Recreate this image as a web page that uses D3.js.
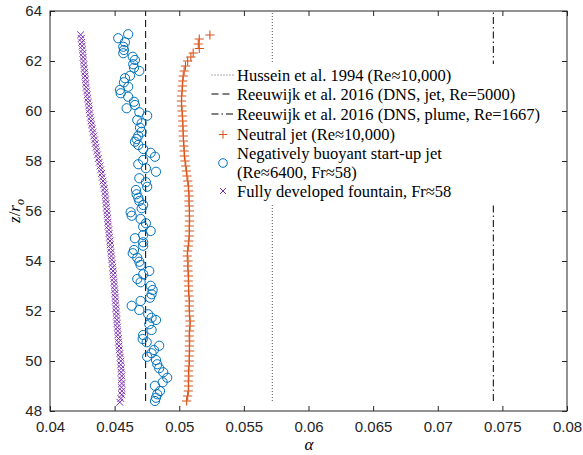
<!DOCTYPE html>
<html><head><meta charset="utf-8">
<script src="https://cdn.jsdelivr.net/npm/d3@7"></script>
<style>
html,body{margin:0;padding:0;background:#fff;}
svg{display:block;}
</style></head>
<body>
<svg id="chart" width="583" height="455"></svg>
<script>
// ---------- data ----------
const xTicks = [0.04,0.045,0.05,0.055,0.06,0.065,0.07,0.075,0.08];
const xTickLabels = ["0.04","0.045","0.05","0.055","0.06","0.065","0.07","0.075","0.08"];
const yTicks = [48,50,52,54,56,58,60,62,64];
const yTickLabels = ["48","50","52","54","56","58","60","62","64"];

// reference lines (alpha constant), drawn over z range
const refNames = ["Hussein et al. 1994 (Re≈10,000)","Reeuwijk et al. 2016 (DNS, jet, Re=5000)","Reeuwijk et al. 2016 (DNS, plume, Re=1667)"];
const refAlpha = [0.0572, 0.0474, 0.0743];
const refZ = [48.4, 64];

// Neutral jet (orange +)
const jetZ = [48.4,48.6,48.8,49.0,49.2,49.4,49.6,49.8,50.0,50.2,50.4,50.6,50.8,51.0,51.2,51.4,51.6,51.8,52.0,52.2,52.4,52.6,52.8,53.0,53.2,53.4,53.6,53.8,54.0,54.2,54.4,54.6,54.8,55.0,55.2,55.4,55.6,55.8,56.0,56.2,56.4,56.6,56.8,57.0,57.2,57.4,57.6,57.8,58.0,58.2,58.4,58.6,58.8,59.0,59.2,59.4,59.6,59.8,60.0,60.2,60.4,60.6,60.8,61.0,61.2,61.4,61.6,61.8,62.0,62.16,62.32,62.5,62.68,62.88,63.04];
const jetAlpha = [0.05057,0.05065,0.05070,0.05072,0.05070,0.05074,0.05071,0.05076,0.05078,0.05077,0.05080,0.05078,0.05081,0.05077,0.05080,0.05083,0.05084,0.05080,0.05078,0.05077,0.05079,0.05075,0.05072,0.05073,0.05070,0.05072,0.05068,0.05066,0.05068,0.05062,0.05065,0.05070,0.05074,0.05077,0.05079,0.05077,0.05080,0.05078,0.05079,0.05077,0.05075,0.05076,0.05073,0.05070,0.05066,0.05060,0.05055,0.05050,0.05045,0.05040,0.05038,0.05036,0.05033,0.05031,0.05030,0.05028,0.05027,0.05024,0.05022,0.05019,0.05017,0.05019,0.05022,0.05024,0.05027,0.05031,0.05038,0.05048,0.05065,0.05090,0.05108,0.05155,0.05147,0.05155,0.05237];

// Negatively buoyant start-up jet (blue o)
const nbjZ = [63.07,62.91,62.75,62.57,62.44,62.31,62.17,62.04,61.87,61.73,61.60,61.41,61.31,61.15,60.97,60.84,60.71,60.57,60.37,60.24,60.11,59.95,59.81,59.64,59.51,59.33,59.17,59.01,58.88,58.77,58.64,58.48,58.33,58.17,58.04,57.87,57.71,57.57,57.31,57.15,56.97,56.84,56.67,56.53,56.40,56.24,56.11,55.95,55.81,55.68,55.51,55.37,55.20,55.04,54.91,54.75,54.61,54.44,54.31,54.13,53.97,53.84,53.60,53.47,53.28,53.15,53.01,52.84,52.67,52.53,52.40,52.21,52.04,51.87,51.73,51.64,51.47,51.24,51.04,50.88,50.75,50.61,50.44,50.31,50.17,50.04,49.87,49.71,49.55,49.33,49.15,49.01,48.80,48.67,48.53,48.40];
const nbjAlpha = [0.04605,0.04528,0.04580,0.04567,0.04572,0.04567,0.04640,0.04657,0.04644,0.04650,0.04691,0.04619,0.04580,0.04572,0.04605,0.04541,0.04547,0.04605,0.04650,0.04657,0.04593,0.04691,0.04752,0.04675,0.04709,0.04696,0.04709,0.04683,0.04670,0.04657,0.04683,0.04721,0.04779,0.04812,0.04721,0.04683,0.04742,0.04820,0.04691,0.04742,0.04752,0.04665,0.04670,0.04683,0.04691,0.04721,0.04709,0.04624,0.04632,0.04701,0.04742,0.04721,0.04779,0.04721,0.04657,0.04721,0.04721,0.04650,0.04640,0.04675,0.04691,0.04701,0.04768,0.04721,0.04675,0.04701,0.04779,0.04794,0.04786,0.04773,0.04701,0.04632,0.04691,0.04760,0.04786,0.04820,0.04768,0.04786,0.04721,0.04717,0.04748,0.04845,0.04804,0.04786,0.04752,0.04820,0.04830,0.04845,0.04876,0.04907,0.04872,0.04812,0.04851,0.04830,0.04820,0.04812];

// Fully developed fountain (purple x)
const fntZ = [48.35,48.50,48.65,48.80,48.95,49.10,49.25,49.40,49.55,49.70,49.85,50.00,50.15,50.30,50.45,50.60,50.75,50.90,51.05,51.20,51.35,51.50,51.65,51.80,51.95,52.10,52.25,52.40,52.55,52.70,52.85,53.00,53.15,53.30,53.45,53.60,53.75,53.90,54.05,54.20,54.35,54.50,54.65,54.80,54.95,55.10,55.25,55.40,55.55,55.70,55.85,56.00,56.15,56.30,56.45,56.60,56.75,56.90,57.05,57.20,57.35,57.50,57.65,57.80,57.95,58.10,58.25,58.40,58.55,58.70,58.85,59.00,59.15,59.30,59.45,59.60,59.75,59.90,60.05,60.20,60.35,60.50,60.65,60.80,60.95,61.10,61.25,61.40,61.55,61.70,61.85,62.00,62.15,62.30,62.45,62.60,62.75,62.90,63.05];
const fntAlpha = [0.04540,0.04548,0.04555,0.04556,0.04553,0.04556,0.04552,0.04555,0.04550,0.04551,0.04547,0.04548,0.04543,0.04541,0.04536,0.04534,0.04530,0.04531,0.04526,0.04524,0.04522,0.04519,0.04517,0.04514,0.04513,0.04510,0.04509,0.04506,0.04505,0.04503,0.04500,0.04498,0.04495,0.04493,0.04490,0.04488,0.04485,0.04481,0.04478,0.04475,0.04472,0.04469,0.04466,0.04464,0.04460,0.04457,0.04455,0.04451,0.04448,0.04446,0.04442,0.04440,0.04437,0.04434,0.04431,0.04428,0.04425,0.04420,0.04415,0.04410,0.04405,0.04399,0.04393,0.04387,0.04381,0.04374,0.04368,0.04362,0.04356,0.04350,0.04345,0.04339,0.04333,0.04327,0.04322,0.04318,0.04313,0.04308,0.04304,0.04300,0.04296,0.04292,0.04288,0.04284,0.04280,0.04277,0.04274,0.04271,0.04268,0.04265,0.04262,0.04259,0.04257,0.04254,0.04252,0.04249,0.04246,0.04242,0.04237];

const seriesNames = ["Neutral jet (Re≈10,000)", ["Negatively buoyant start-up jet","(Re≈6400, Fr≈58)"], "Fully developed fountain, Fr≈58"];

// ---------- drawing ----------
const C_ORANGE = "#D95319", C_BLUE = "#0072BD", C_PURPLE = "#7E2FB0", AXC = "#262626";
const svg = d3.select("#chart");
const x = d3.scaleLinear().domain([0.04,0.08]).range([50,567]);
const y = d3.scaleLinear().domain([48,64]).range([411,11]);

const plot = svg.append("g");
// reference lines
const refDash = ["1,2","7,4","7,3,1.5,3"];
refAlpha.forEach((a,i)=>{
  plot.append("line")
    .attr("x1",x(a)).attr("x2",x(a))
    .attr("y1",y(refZ[0])).attr("y2",y(refZ[1]))
    .attr("stroke", i===0 ? "#444" : "#000").attr("stroke-width", i===0?0.9:1)
    .attr("stroke-dasharray",refDash[i]);
});

function plusPath(cx,cy,s){return `M${cx-s},${cy}H${cx+s}M${cx},${cy-s}V${cy+s}`;}
function crossPath(cx,cy,s){return `M${cx-s},${cy-s}L${cx+s},${cy+s}M${cx-s},${cy+s}L${cx+s},${cy-s}`;}

// fountain
plot.append("g").selectAll("path").data(fntZ).join("path")
  .attr("d",(z,i)=>crossPath(x(fntAlpha[i]),y(z),3.4))
  .attr("stroke",C_PURPLE).attr("stroke-width",1).attr("fill","none");
// negatively buoyant jet
plot.append("g").selectAll("circle").data(nbjZ).join("circle")
  .attr("cx",(z,i)=>x(nbjAlpha[i])).attr("cy",z=>y(z)).attr("r",4.6)
  .attr("stroke",C_BLUE).attr("stroke-width",1).attr("fill","none");
// neutral jet
plot.append("g").selectAll("path").data(jetZ).join("path")
  .attr("d",(z,i)=>plusPath(x(jetAlpha[i]),y(z),4.6))
  .attr("stroke",C_ORANGE).attr("stroke-width",1.1).attr("fill","none");

// axes
const xAxB = d3.axisBottom(x).tickValues(xTicks).tickFormat((d,i)=>xTickLabels[i]).tickSizeInner(-5).tickSizeOuter(0).tickPadding(10);
const xAxT = d3.axisTop(x).tickValues(xTicks).tickFormat("").tickSizeInner(-5).tickSizeOuter(0);
const yAxL = d3.axisLeft(y).tickValues(yTicks).tickFormat((d,i)=>yTickLabels[i]).tickSizeInner(-5).tickSizeOuter(0).tickPadding(8);
const yAxR = d3.axisRight(y).tickValues(yTicks).tickFormat("").tickSizeInner(-5).tickSizeOuter(0);
function styleAxis(g){
  g.select(".domain").remove();
  g.selectAll("line").attr("stroke",AXC);
  g.selectAll("text").attr("fill",AXC).style("font-family","'Liberation Sans', Arial, sans-serif").style("font-size","15px");
}
svg.append("g").attr("transform","translate(0,411)").call(xAxB).call(styleAxis);
svg.append("g").attr("transform","translate(0,11)").call(xAxT).call(styleAxis);
svg.append("g").attr("transform","translate(50,0)").call(yAxL).call(styleAxis);
svg.append("g").attr("transform","translate(567,0)").call(yAxR).call(styleAxis);
svg.append("rect").attr("x",50).attr("y",11).attr("width",517).attr("height",400)
  .attr("fill","none").attr("stroke",AXC).attr("stroke-width",1);

// axis labels
svg.append("text").attr("x",309).attr("y",450).attr("text-anchor","middle")
  .style("font-family","'Liberation Serif', serif").style("font-style","italic").style("font-size","17px").attr("fill","#000").text("α");
const yl = svg.append("text").attr("transform","translate(20,211) rotate(-90)").attr("text-anchor","middle")
  .style("font-family","'Liberation Serif', serif").style("font-size","17px").attr("fill","#000");
yl.append("tspan").style("font-style","italic").text("z");
yl.append("tspan").text("/");
yl.append("tspan").style("font-style","italic").text("r");
yl.append("tspan").style("font-style","italic").style("font-size","12px").attr("dy",4).text("o");

// legend
const lg = svg.append("g");
lg.append("rect").attr("x",207).attr("y",64).attr("width",330).attr("height",141).attr("fill","#fff");
const rowsY = [75,94,114,134.5];
const tx = 237, lx1 = 211.5, lx2 = 233.5, mx = 223;
const fontL = {"font-family":"'Liberation Serif', 'Times New Roman', serif","font-size":"16.5px"};
function ltext(yy,t){
  const e = lg.append("text").attr("x",tx).attr("y",yy).attr("dominant-baseline","central").attr("fill","#000").text(t);
  Object.entries(fontL).forEach(([k,v])=>e.style(k,v));
}
refNames.forEach((n,i)=>{
  lg.append("line").attr("x1",lx1).attr("x2",lx2).attr("y1",rowsY[i]).attr("y2",rowsY[i])
    .attr("stroke", i===0 ? "#444" : "#000").attr("stroke-width",i===0?0.9:1).attr("stroke-dasharray",refDash[i]);
  ltext(rowsY[i],n);
});
lg.append("path").attr("d",plusPath(mx,rowsY[3],4.2)).attr("stroke",C_ORANGE).attr("fill","none");
ltext(rowsY[3],seriesNames[0]);
lg.append("circle").attr("cx",mx).attr("cy",163).attr("r",4.3).attr("stroke",C_BLUE).attr("fill","none");
ltext(153.5,seriesNames[1][0]);
ltext(172.5,seriesNames[1][1]);
lg.append("path").attr("d",crossPath(mx,191,3)).attr("stroke",C_PURPLE).attr("fill","none");
ltext(191,seriesNames[2]);
</script>
</body></html>
